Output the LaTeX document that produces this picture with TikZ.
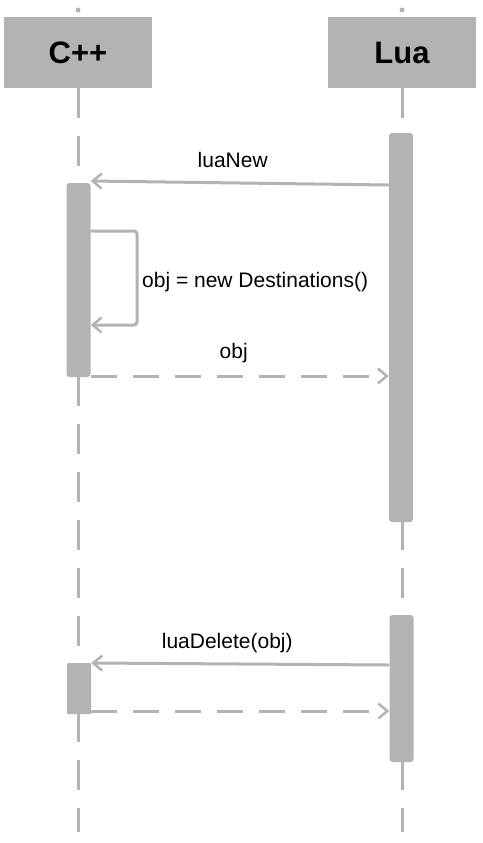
\documentclass[tikz,border=0pt]{standalone}
\usepackage{fontspec}
\setmainfont{Liberation Sans}
\usetikzlibrary{arrows.meta}
\definecolor{seqgray}{RGB}{179,179,179}
\tikzset{
  header/.style={fill=seqgray,minimum width=148pt,minimum height=71pt,inner sep=0pt,font=\fontsize{31}{34}\selectfont\bfseries},
  actbar/.style={fill=seqgray,rounded corners=3pt,minimum width=24pt,inner sep=0pt},
  lifeline/.style={seqgray,line width=3pt,dash pattern=on 30pt off 18pt},
  msg/.style={seqgray,line width=3pt,-{Straight Barb[length=9pt,width=15pt,line width=2.5pt]}},
  reply/.style={msg,dash pattern=on 26pt off 16pt},
  msglabel/.style={text=black,inner sep=0pt,anchor=base,font=\fontsize{21}{24}\selectfont}
}
\begin{document}
\begin{tikzpicture}[x=1pt,y=-1pt]
\useasboundingbox (0,0) rectangle (482,843);
% participants
\fill[seqgray] (78,10) circle (2.5pt) (402,10) circle (2.5pt);
\draw[lifeline] (78,88) -- (78,832);
\draw[lifeline] (402,88) -- (402,832);
\node[header] (cpp) at (78,52.5) {C++};
\node[header] (lua) at (402,52.5) {Lua};
% activations
\node[actbar,minimum height=389pt] (luaA) at (401,327.5) {};
\node[actbar,minimum height=194pt] (cppA) at (78.5,280) {};
\node[actbar,minimum height=147pt] (luaB) at (401.5,688.5) {};
\node[actbar,minimum height=51pt,rounded corners=1pt] (cppB) at (79,688.5) {};
% luaNew
\draw[msg] (luaA.west |- 0,185) -- (cppA.east |- 0,181) node[midway,msglabel,yshift=16pt,xshift=-7pt]{luaNew};
% self call
\coordinate (loopA) at (137,231);
\coordinate (loopB) at (137,325);
\draw[msg,rounded corners=3pt] (cppA.east |- loopA) -- (loopA) -- (loopB) -- (cppA.east |- loopB);
\node[msglabel,anchor=base west] (newlbl) at (142,287) {obj = new Destinations()};
% return obj
\draw[reply] (cppA.east |- 0,376) -- (luaA.west |- 0,376) node[midway,msglabel,yshift=18pt,xshift=-6pt]{obj};
% luaDelete
\draw[msg] (luaB.west |- 0,665) -- (cppB.east |- 0,663) node[midway,msglabel,yshift=16pt,xshift=-13pt]{luaDelete(obj)};
\draw[reply] (cppB.east |- 0,711) -- (luaB.west |- 0,711);
\end{tikzpicture}
\end{document}
